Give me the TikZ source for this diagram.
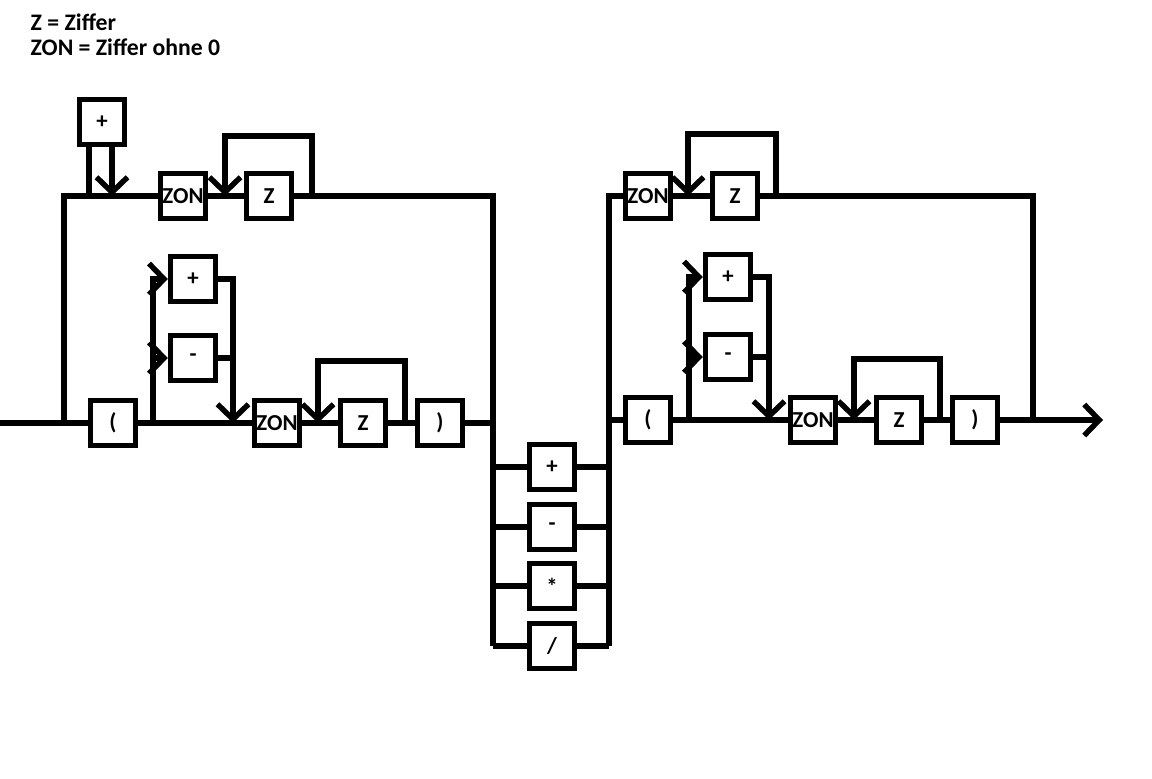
\documentclass[tikz,border=0pt]{standalone}
\usepackage{fontspec}
\setmainfont{Carlito}
\usetikzlibrary{arrows.meta}

\begin{document}
\begin{tikzpicture}[x=0.02cm, y=-0.02cm, line width=3.1pt,
    >={Straight Barb[length=0.3cm, width=0.62cm]},
    box/.style={rectangle, draw, minimum size=0.9cm, inner sep=0pt, font=\bfseries\fontsize{13}{15}\selectfont},
    legendtext/.style={anchor=base west, inner sep=0pt, font=\bfseries\fontsize{13.5}{15}\selectfont}]
    \useasboundingbox (0,0) rectangle (1152,778);

    % Legende
    \node[legendtext] (lgZ) at (28,30) {Z = Ziffer};
    \node[legendtext] (lgZON) at (28,55) {ZON = Ziffer ohne 0};

    % linke Zahl
    \node[box] (lvz) at (102,122) {+};
    \node[box] (lzon1) at (183,196) {ZON};
    \node[box] (lz1) at (269,196) {Z};
    \node[box] (lauf) at (113,423) {(};
    \node[box] (lplus) at (193,279) {+};
    \node[box] (lminus) at (193,358) {-};
    \node[box] (lzon2) at (277,423) {ZON};
    \node[box] (lz2) at (363,423) {Z};
    \node[box] (lzu) at (440,423) {)};

    % Operatoren
    \node[box] (opPlus) at (552,467) {+};
    \node[box] (opMinus) at (552,527) {-};
    \node[box] (opMal) at (552,586) {*};
    \node[box] (opDurch) at (552,646) {/};

    % rechte Zahl
    \node[box] (rzon1) at (648,196) {ZON};
    \node[box] (rz1) at (735,196) {Z};
    \node[box] (rauf) at (648,420) {(};
    \node[box] (rplus) at (728,277) {+};
    \node[box] (rminus) at (728,357) {-};
    \node[box] (rzon2) at (813,420) {ZON};
    \node[box] (rz2) at (899,420) {Z};
    \node[box] (rzu) at (975,420) {)};

    % Knickpunkte
    \coordinate (start) at (0,423);
    \coordinate (lgabel) at (64,423);
    \coordinate (lvzIn) at (89,196);
    \coordinate (lvzOut) at (112,196);
    \coordinate (lschl1) at (225,196);
    \coordinate (lschl1e) at (312,196);
    \coordinate (lvor) at (153,423);
    \coordinate (lvorEnd) at (233,423);
    \coordinate (lschl2) at (318,423);
    \coordinate (lschl2e) at (405,423);
    \coordinate (opL) at (493,646);
    \coordinate (opR) at (609,646);
    \coordinate (rgabel) at (609,420);
    \coordinate (rschl1) at (688,196);
    \coordinate (rschl1e) at (776,196);
    \coordinate (rvor) at (689,420);
    \coordinate (rvorEnd) at (769,420);
    \coordinate (rschl2) at (854,420);
    \coordinate (rschl2e) at (940,420);
    \coordinate (rjoin) at (1033,420);
    \coordinate (ende) at (1103,420);

    % linke Zahl: Verbindungen
    \draw (start) -- (lauf);
    \draw (lgabel) |- (lzon1);
    \draw (lvzIn) -- (lvzIn |- lvz.south);
    \draw[->] (lvzOut |- lvz.south) -- (lvzOut);
    \draw (lzon1) -- (lz1);
    \draw[->] (lschl1e) -- ++(0,-60) -| (lschl1);
    \draw (lz1) -| (opL);
    \draw (lauf) -- (lzon2);
    \draw[->] (lvor) |- (lplus);
    \draw[->] (lvor |- lminus) -- (lminus);
    \draw[->] (lplus) -| (lvorEnd);
    \draw (lminus) -- (lminus -| lvorEnd);
    \draw (lzon2) -- (lz2);
    \draw[->] (lschl2e) -- ++(0,-62) -| (lschl2);
    \draw (lz2) -- (lzu);
    \draw (lzu) -- (lzu -| opL);

    % Operatoren: Verbindungen
    \foreach \op in {opPlus, opMinus, opMal, opDurch}
        \draw (\op -| opL) -- (\op) -- (\op -| opR);
    \draw (opR) |- (rzon1);
    \draw (rgabel) -- (rauf);

    % rechte Zahl: Verbindungen
    \draw (rzon1) -- (rz1);
    \draw[->] (rschl1e) -- ++(0,-62) -| (rschl1);
    \draw (rz1) -| (rjoin);
    \draw (rauf) -- (rzon2);
    \draw[->] (rvor) |- (rplus);
    \draw[->] (rvor |- rminus) -- (rminus);
    \draw[->] (rplus) -| (rvorEnd);
    \draw (rminus) -- (rminus -| rvorEnd);
    \draw (rzon2) -- (rz2);
    \draw[->] (rschl2e) -- ++(0,-61) -| (rschl2);
    \draw (rz2) -- (rzu);
    \draw[->] (rzu) -- (ende);
\end{tikzpicture}
\end{document}
